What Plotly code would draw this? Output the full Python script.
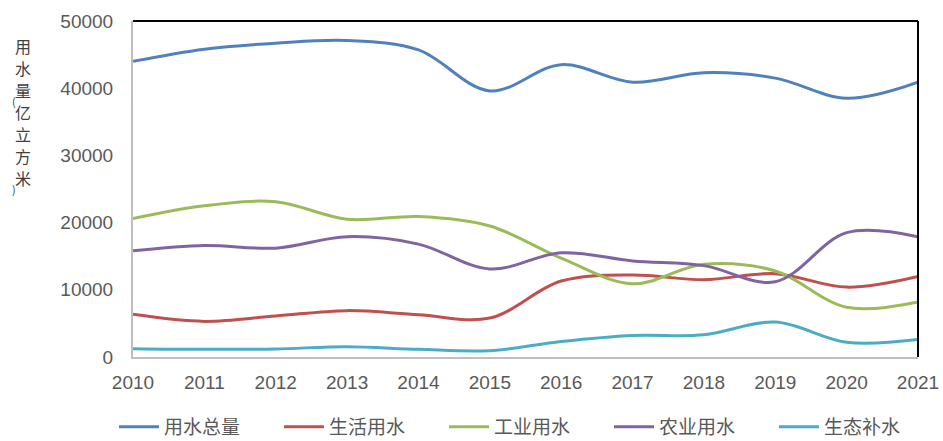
import plotly.graph_objects as go

years = [2010, 2011, 2012, 2013, 2014, 2015, 2016, 2017, 2018, 2019, 2020, 2021]
total = [44000, 45800, 46700, 47100, 45700, 39600, 43500, 40900, 42300, 41500, 38500, 40900]
domestic = [6350, 5300, 6100, 6900, 6300, 5800, 11300, 12200, 11500, 12400, 10400, 12000]
industrial = [20600, 22500, 23100, 20500, 20900, 19500, 14700, 10900, 13800, 12800, 7400, 8200]
agriculture = [15800, 16600, 16200, 17900, 16800, 13100, 15500, 14300, 13600, 11200, 18500, 17900]
ecological = [1240, 1140, 1200, 1530, 1140, 940, 2300, 3200, 3300, 5200, 2200, 2600]

series_names = ["用水总量", "生活用水", "工业用水", "农业用水", "生态补水"]
series_values = [total, domestic, industrial, agriculture, ecological]
colors = ["#4F81BD", "#C0504D", "#9BBB59", "#8064A2", "#4BACC6"]
y_ticks = [0, 10000, 20000, 30000, 40000, 50000]
y_title = "用水量(亿立方米)"

W, H = 943, 441
L, R, T, B = 133, 25, 21, 84
PW, PH = W - L - R, H - T - B

fig = go.Figure()
legend_layout = {}
for i, (name, vals, c) in enumerate(zip(series_names, series_values, colors)):
    lg = "legend" if i == 0 else "legend%d" % (i + 1)
    fig.add_trace(go.Scatter(
        x=years, y=vals, name=name, mode="lines", legend=lg,
        line=dict(color=c, width=3, shape="spline", smoothing=1.0),
    ))
    legend_layout[lg] = dict(
        orientation="h", xref="container", yref="container",
        x=(114 + 165 * i) / W, xanchor="left", y=(H - 427) / H, yanchor="middle",
        font=dict(family="Noto Sans CJK SC, sans-serif", size=19, color="#595959"),
        itemwidth=40, bgcolor="rgba(0,0,0,0)",
    )

tick_font = dict(family="Liberation Sans, Arial, sans-serif", size=19, color="#595959")

fig.update_layout(
    width=W, height=H,
    margin=dict(l=L, r=R, t=T, b=B, autoexpand=False),
    paper_bgcolor="white", plot_bgcolor="white",
    showlegend=True,
    xaxis=dict(
        range=[2010, 2021], tickmode="array", tickvals=years,
        ticktext=[str(y) for y in years], showgrid=False, zeroline=False,
        showline=True, linecolor="#BFBFBF", linewidth=2, ticks="",
        tickfont=tick_font, ticklabelstandoff=7,
    ),
    yaxis=dict(
        range=[0, 50000], tickmode="array", tickvals=y_ticks,
        ticktext=[str(v) for v in y_ticks], showgrid=False, zeroline=False,
        showline=True, linecolor="#BFBFBF", linewidth=2, ticks="",
        tickfont=tick_font, ticklabelstandoff=14,
    ),
    **legend_layout,
)

# top and right frame lines (black)
fig.add_shape(type="line", xref="paper", yref="paper", x0=0, x1=1, y0=1, y1=1,
              line=dict(color="black", width=2))
fig.add_shape(type="line", xref="paper", yref="paper", x0=1, x1=1, y0=0, y1=1,
              line=dict(color="black", width=2))

# vertical stacked y-axis title: one glyph per row
row_y = 46
for ch in y_title:
    if ch in "()":
        xp, yp, fs = 14, row_y - 11, 11
    else:
        xp, yp, fs = 23, row_y, 16
        row_y += 22
    fig.add_annotation(
        text=ch, xref="paper", yref="paper",
        x=(xp - L) / PW, y=(H - B - yp) / PH, xanchor="center", yanchor="middle",
        showarrow=False,
        font=dict(family="Noto Sans CJK SC, sans-serif", size=fs, color="#404040"),
    )

fig.write_html(
    "out.html",
    config={"displayModeBar": False},
    post_script="document.body.style.margin='0';document.body.style.overflow='hidden';",
)
